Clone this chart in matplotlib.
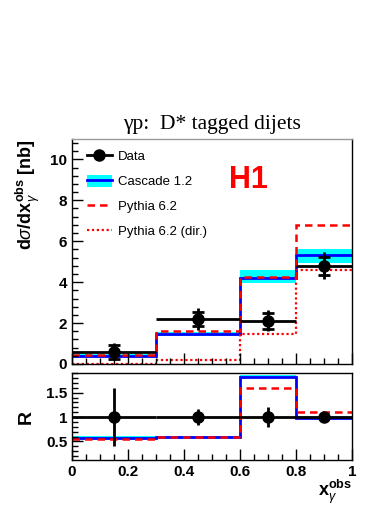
import matplotlib

matplotlib.use("Agg")
import matplotlib.pyplot as plt
from matplotlib.lines import Line2D
from matplotlib.patches import Patch
from matplotlib.ticker import MultipleLocator

# bin edges and centres in x_gamma^obs
edges = [0.0, 0.3, 0.6, 0.8, 1.0]
x_data = [0.15, 0.45, 0.70, 0.90]

# cross section [nb]
data_y = [0.60, 2.21, 2.11, 4.80]
data_stat = [0.35, 0.33, 0.40, 0.45]
data_tot = [0.42, 0.55, 0.52, 0.67]

cascade = [0.40, 1.45, 4.21, 5.35]
cascade_lo = [0.33, 1.35, 3.95, 4.95]
cascade_hi = [0.47, 1.55, 4.60, 5.60]
pythia = [0.42, 1.62, 4.25, 6.77]
pythia_dir = [0.02, 0.20, 1.48, 4.59]

# ratio panel
ratio_data = [1.0, 1.0, 1.0, 1.0]
ratio_err = [0.60, 0.16, 0.21, 0.05]
ratio_cascade = [0.58, 0.60, 1.82, 0.99]
ratio_cascade_lo = [0.56, 0.58, 1.79, 0.97]
ratio_cascade_hi = [0.62, 0.62, 1.87, 1.02]
ratio_pythia = [0.54, 0.59, 1.59, 1.11]

SANS = "Liberation Sans"
plt.rcParams.update({
    "font.family": SANS,
    "mathtext.fontset": "custom",
    "mathtext.rm": SANS,
    "mathtext.it": SANS + ":italic",
    "mathtext.bf": SANS + ":bold",
})

fig = plt.figure(figsize=(3.92, 5.08), dpi=100)
ax = fig.add_axes([0.1837, 0.2835, 0.714, 0.443])
axr = fig.add_axes([0.1837, 0.0945, 0.714, 0.171])

xerr = [[x - lo for x, lo in zip(x_data, edges[:-1])],
        [hi - x for x, hi in zip(x_data, edges[1:])]]

# ---- top panel
ax.stairs(cascade_hi, edges, baseline=cascade_lo, fill=True, color="#00ffff", lw=0)
ax.stairs(cascade, edges, baseline=None, color="#0000ff", lw=2)
ax.stairs(pythia, edges, baseline=None, color="#ff0000", lw=1.8, ls=(0, (3, 2)))
ax.stairs(pythia_dir, edges, baseline=None, color="#ff0000", lw=1.6, ls=(0, (1, 1.2)))
ax.errorbar(x_data, data_y, xerr=xerr, yerr=data_tot, fmt="o", color="black",
            ms=8, lw=2, capsize=0, zorder=5)
ax.errorbar(x_data, data_y, yerr=data_stat, fmt="none", ecolor="black",
            lw=2, capsize=4, capthick=2, zorder=5)

ax.set_xlim(0, 1)
ax.set_ylim(0, 11)
ax.yaxis.set_major_locator(MultipleLocator(2))
ax.yaxis.set_minor_locator(MultipleLocator(0.4))
ax.xaxis.set_major_locator(MultipleLocator(0.2))
ax.xaxis.set_minor_locator(MultipleLocator(0.05))
ax.tick_params(axis="x", labelbottom=False)
ax.set_ylabel(r"d$\sigma$/dx$_{\gamma}^{\mathbf{obs}}$ [nb]", fontsize=13,
              fontweight="bold", loc="top", labelpad=6)
ax.set_title("γp:  D* tagged dijets", family="Liberation Serif", fontsize=15.5, pad=7)
ax.text(0.632, 0.818, "H1", transform=ax.transAxes, color="#ff0000",
        fontsize=22, fontweight="bold", ha="center", va="center")
ax.spines["top"].set_color("#999999")

handles = [
    Line2D([], [], color="black", lw=2, marker="o", ms=8),
    (Patch(facecolor="#00ffff", edgecolor="none"), Line2D([], [], color="#0000ff", lw=2)),
    Line2D([], [], color="#ff0000", lw=1.8, ls=(0, (3, 2))),
    Line2D([], [], color="#ff0000", lw=1.6, ls=(0, (1, 1.2))),
]
labels = ["Data", "Cascade 1.2", "Pythia 6.2", "Pythia 6.2 (dir.)"]
ax.legend(handles, labels, loc="upper left", frameon=False, fontsize=9.5,
          handlelength=1.9, handleheight=1.1, handletextpad=0.45, labelspacing=0.85,
          bbox_to_anchor=(0.015, 1.0), borderaxespad=0.4)

# ---- ratio panel
axr.stairs(ratio_cascade_hi, edges, baseline=ratio_cascade_lo, fill=True,
           color="#00ffff", lw=0)
axr.stairs(ratio_cascade, edges, baseline=None, color="#0000ff", lw=2)
axr.stairs(ratio_pythia, edges, baseline=None, color="#ff0000", lw=1.8, ls=(0, (3, 2)))
axr.errorbar(x_data, ratio_data, xerr=xerr, yerr=ratio_err, fmt="o", color="black",
             ms=8, lw=2, capsize=0, zorder=5)
axr.set_xlim(0, 1)
axr.set_ylim(0.12, 1.9)
axr.yaxis.set_minor_locator(MultipleLocator(0.1))
axr.xaxis.set_minor_locator(MultipleLocator(0.05))
axr.set_xticks([0, 0.2, 0.4, 0.6, 0.8, 1.0])
axr.set_xticklabels(["0", "0.2", "0.4", "0.6", "0.8", "1"])
axr.set_yticks([0.5, 1.0, 1.5])
axr.set_yticklabels(["0.5", "1", "1.5"])
axr.set_ylabel("R", fontsize=14, fontweight="bold", labelpad=8)
axr.set_xlabel(r"x$_{\gamma}^{\mathbf{obs}}$", fontsize=13, fontweight="bold",
               loc="right", labelpad=-1)

for a in (ax, axr):
    a.tick_params(which="both", direction="in", top=False, right=False,
                  labelsize=11, width=1)
    a.tick_params(which="major", length=8)
    a.tick_params(which="minor", length=4)
    for lab in a.get_xticklabels() + a.get_yticklabels():
        lab.set_fontweight("bold")
    for s in a.spines.values():
        s.set_linewidth(1)

fig.savefig("out.png", dpi=100)
